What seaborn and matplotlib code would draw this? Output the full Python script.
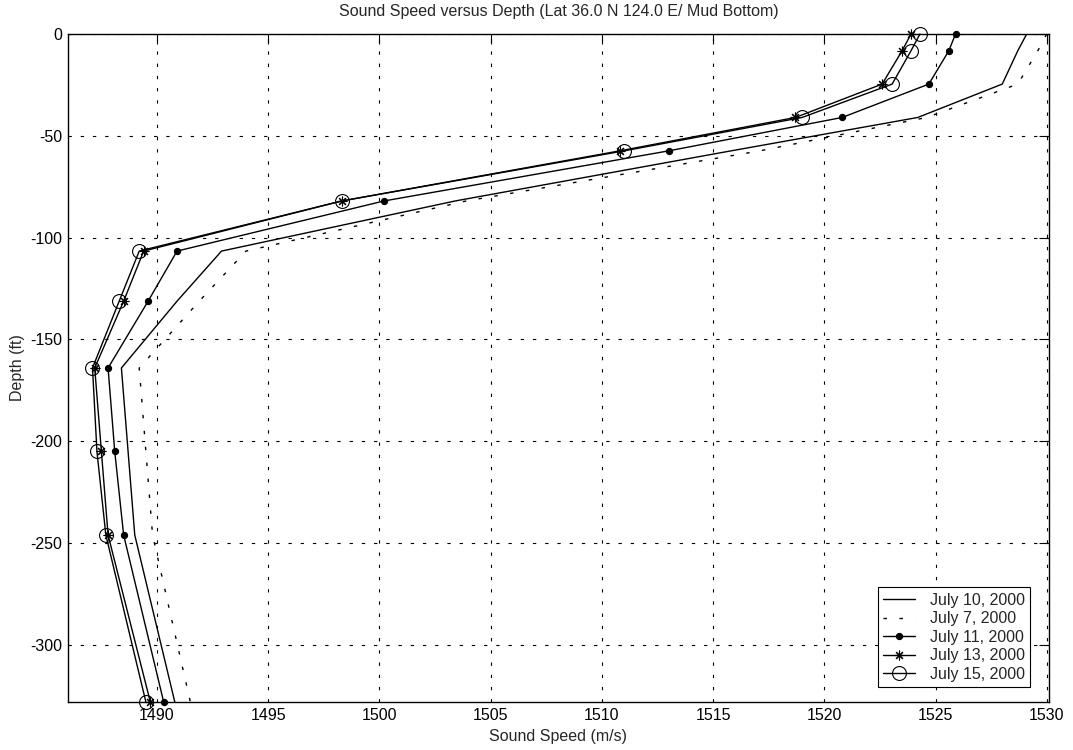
import matplotlib
matplotlib.use("Agg")
import matplotlib.pyplot as plt
import seaborn as sns
import pandas as pd

depth_ft = [0, -8.2, -24.6, -41.0, -57.4, -82.0, -106.6, -131.2, -164.0, -205.0, -246.0, -328.0]
july10 = [1529.1, 1528.7, 1528.0, 1524.2, 1515.8, 1503.4, 1492.9, 1490.9, 1488.4, 1488.7, 1489.0, 1490.8]
july7 = [1530.0, 1529.6, 1528.7, 1524.6, 1517.1, 1503.9, 1494.0, 1491.9, 1489.2, 1489.5, 1489.8, 1491.5]
july11 = [1525.9, 1525.6, 1524.7, 1520.8, 1513.0, 1500.2, 1490.9, 1489.6, 1487.8, 1488.1, 1488.5, 1490.3]
july13 = [1523.9, 1523.5, 1522.6, 1518.7, 1510.8, 1498.3, 1489.4, 1488.5, 1487.2, 1487.5, 1487.8, 1489.7]
july15 = [1524.3, 1523.9, 1523.05, 1519.0, 1511.0, 1498.3, 1489.2, 1488.3, 1487.1, 1487.3, 1487.7, 1489.5]

labels = ["July 10, 2000", "July 7, 2000", "July 11, 2000", "July 13, 2000", "July 15, 2000"]
series = [july10, july7, july11, july13, july15]

x_ticks = [1490, 1495, 1500, 1505, 1510, 1515, 1520, 1525, 1530]
y_ticks = [0, -50, -100, -150, -200, -250, -300]

sns.set_theme(style="white")
plt.rcParams['font.family'] = ['Liberation Sans', 'DejaVu Sans']
plt.rcParams['font.size'] = 11.5
plt.rcParams['axes.unicode_minus'] = False

fig = plt.figure(figsize=(10.73, 7.50), dpi=100)
ax = fig.add_axes([0.0634, 0.064, 0.9142, 0.8907])

styles = [
    dict(linestyle='-', marker=None),
    dict(linestyle=(0, (2.5, 9)), marker=None),
    dict(linestyle='-', marker='o', markersize=4.5, markerfacecolor='black', markeredgecolor='black'),
    dict(linestyle='-', marker=(8, 2, 0), markersize=7, markerfacecolor='none', markeredgecolor='black', markeredgewidth=0.8),
    dict(linestyle='-', marker='o', markersize=10, markerfacecolor='none', markeredgecolor='black', markeredgewidth=0.8),
]

for lab, vals, st in zip(labels, series, styles):
    df = pd.DataFrame({"speed": vals, "depth": depth_ft})
    sns.lineplot(data=df, x="speed", y="depth", sort=False, estimator=None,
                 color='black', linewidth=1.0, label=lab, ax=ax, **st)

for ln in ax.lines:
    if ln.get_marker() not in (None, 'None', ''):
        ln.set_clip_on(False)

ax.set_xlim(1486, 1530.1)
ax.set_ylim(-328, 0)
ax.set_xticks(x_ticks)
ax.set_yticks(y_ticks)
ax.grid(True, color='black', linestyle=(0, (3, 8)), linewidth=0.8)
ax.tick_params(direction='in', top=True, right=True, length=7, width=0.8,
               labelsize=11.5, colors='black', pad=4)
for s in ax.spines.values():
    s.set_color('black')
    s.set_linewidth(1.0)

ax.set_title("Sound Speed versus Depth (Lat 36.0 N 124.0 E/ Mud Bottom)", fontsize=11.5, pad=13)
ax.set_xlabel("Sound Speed (m/s)", fontsize=11.5, labelpad=5)
ax.set_ylabel("Depth (ft)", fontsize=11.5, labelpad=4)

leg = ax.legend(loc='lower right', bbox_to_anchor=(0.981, 0.022), fontsize=11.5,
                frameon=True, fancybox=False, edgecolor='black', framealpha=1,
                borderaxespad=0.0,
                handlelength=2.0, borderpad=0.35, labelspacing=0.22, handletextpad=0.9)
leg.get_frame().set_linewidth(0.8)

fig.savefig("out.png", dpi=100)
